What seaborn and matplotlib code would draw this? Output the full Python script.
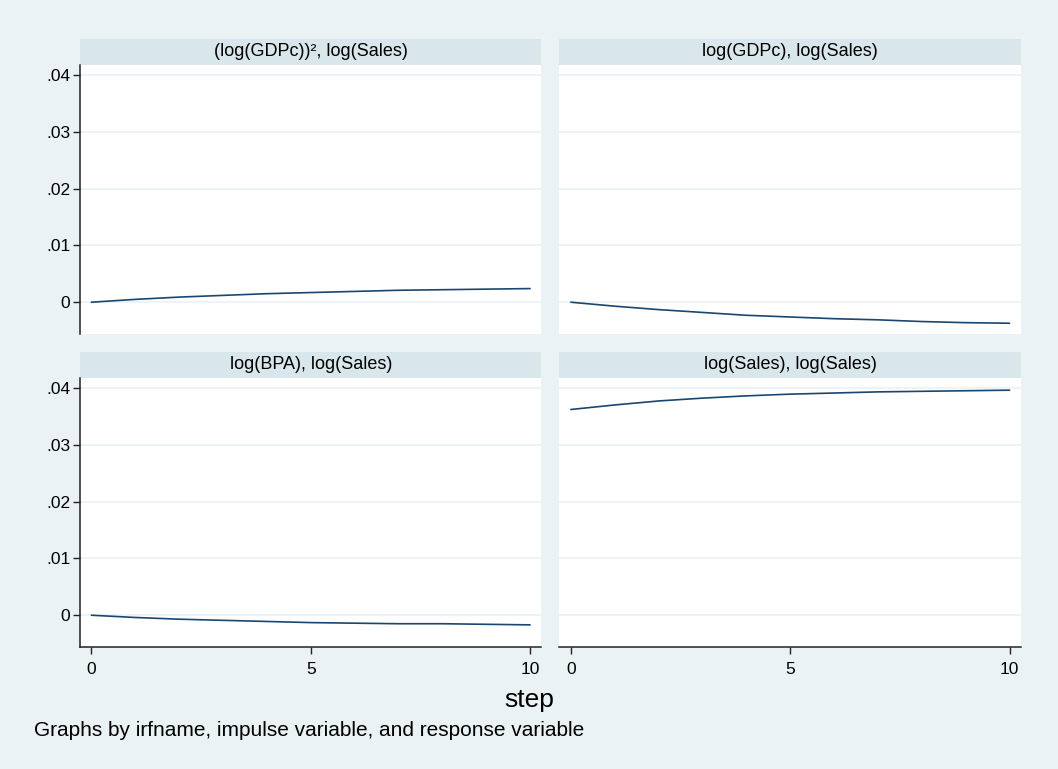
import matplotlib.pyplot as plt
import pandas as pd
import seaborn as sns
from matplotlib.patches import Rectangle

# impulse-response values (step 0..10)
steps = list(range(11))
panels = [
    "(log(GDPc))², log(Sales)",
    "log(GDPc), log(Sales)",
    "log(BPA), log(Sales)",
    "log(Sales), log(Sales)",
]
irf_gdpc2 = [0.0, 0.0005, 0.0009, 0.0012, 0.0015, 0.0017, 0.0019, 0.0021, 0.0022, 0.0023, 0.0024]
irf_gdpc = [0.0, -0.0007, -0.0013, -0.0018, -0.0023, -0.0026, -0.0029, -0.0031, -0.0034, -0.0036, -0.0037]
irf_bpa = [0.0, -0.0004, -0.0007, -0.0009, -0.0011, -0.0013, -0.0014, -0.0015, -0.0015, -0.0016, -0.0017]
irf_sales = [0.0362, 0.0370, 0.0377, 0.0382, 0.0386, 0.0389, 0.0391, 0.0393, 0.0394, 0.0395, 0.0396]

y_ticks = [0, 0.01, 0.02, 0.03, 0.04]
y_tick_labels = ["0", ".01", ".02", ".03", ".04"]
x_ticks = [0, 5, 10]
x_tick_labels = ["0", "5", "10"]

BG = "#EAF2F3"
STRIP = "#D9E6EB"
LINE = "#1A476F"

series = [irf_gdpc2, irf_gdpc, irf_bpa, irf_sales]
df = pd.concat(
    [pd.DataFrame({"step": steps, "irf": vals, "panel": name}) for name, vals in zip(panels, series)],
    ignore_index=True,
)

sns.set_style("white")
plt.rcParams["font.family"] = ["Liberation Sans", "DejaVu Sans"]
plt.rcParams["text.color"] = "black"
plt.rcParams["xtick.labelcolor"] = "black"
plt.rcParams["ytick.labelcolor"] = "black"

g = sns.relplot(
    data=df, x="step", y="irf", col="panel", col_order=panels, col_wrap=2,
    kind="line", color=LINE, linewidth=1.2, height=3, aspect=1.5,
    facet_kws=dict(sharex=True, sharey=True, despine=False),
)
fig = g.figure
fig.set_size_inches(10.58, 7.69)
fig.set_facecolor(BG)
g.set_titles("")
g.set_axis_labels("", "")
fig.subplots_adjust(left=0.0756, right=0.965, bottom=0.1586, top=0.9159, wspace=0.039, hspace=0.162)

strip_h = 26 / 269.3
for i, (ax, name) in enumerate(zip(g.axes.flat, panels)):
    row, col = divmod(i, 2)
    ax.set_facecolor("white")
    ax.set_xlim(-0.26, 10.26)
    ax.set_ylim(-0.0056, 0.0418)
    ax.set_yticks(y_ticks)
    ax.set_yticklabels(y_tick_labels)
    ax.set_xticks(x_ticks)
    ax.set_xticklabels(x_tick_labels)
    ax.yaxis.grid(True, color=BG, lw=1.2)
    ax.xaxis.grid(False)
    ax.set_axisbelow(True)
    for s in ax.spines.values():
        s.set_visible(False)
    if col == 0:
        ax.spines["left"].set_visible(True)
        ax.spines["left"].set_color("#222222")
        ax.spines["left"].set_linewidth(1.1)
    if row == 1:
        ax.spines["bottom"].set_visible(True)
        ax.spines["bottom"].set_color("#222222")
        ax.spines["bottom"].set_linewidth(1.1)
    ax.tick_params(axis="y", left=(col == 0), labelleft=(col == 0), length=5, width=1,
                   color="#222222", labelsize=12.5, pad=2, labelcolor="black")
    ax.tick_params(axis="x", bottom=(row == 1), labelbottom=(row == 1), length=5, width=1,
                   color="#222222", labelsize=12.5, pad=6, labelcolor="black")
    ax.add_patch(Rectangle((0, 1), 1, strip_h, transform=ax.transAxes,
                           facecolor=STRIP, edgecolor="none", clip_on=False))
    ax.text(0.5, 1 + strip_h / 2, name, transform=ax.transAxes,
            ha="center", va="center", fontsize=13, color="black")

fig.text(529.5 / 1058, 1 - 706.5 / 769, "step", ha="center", va="baseline", fontsize=19, color="black")
fig.text(33.5 / 1058, 1 - 736 / 769, "Graphs by irfname, impulse variable, and response variable",
         ha="left", va="baseline", fontsize=15, color="black")

fig.savefig("out.png", dpi=100, facecolor=BG)
